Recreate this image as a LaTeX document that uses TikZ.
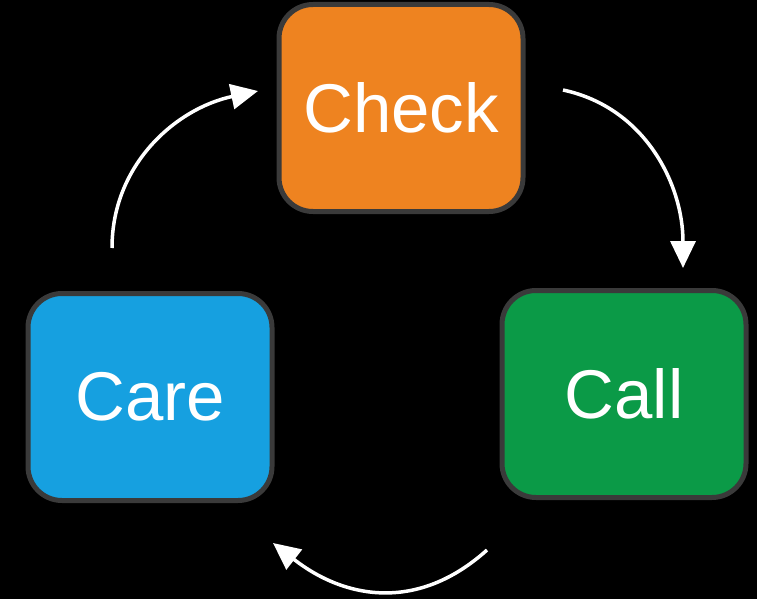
\documentclass[tikz,border=0pt]{standalone}
\usepackage{fontspec}
\setmainfont{Liberation Sans}
\usetikzlibrary{arrows.meta}
\definecolor{chkorange}{HTML}{EE8320}
\definecolor{careblue}{HTML}{16A0E0}
\definecolor{callgreen}{HTML}{0B9A47}
\definecolor{boxborder}{HTML}{3A3A3A}
\begin{document}
\begin{tikzpicture}[x=1pt,y=1pt,
  box/.style={draw=boxborder, line width=5pt, rounded corners=34pt,
    minimum width=244pt, minimum height=207pt, inner sep=0pt,
    text=white, font=\fontsize{69}{80}\selectfont},
  cyc/.style={draw=white, line width=3.5pt,
    -{Triangle[length=27pt,width=25pt]}}]
\fill[black] (0,0) rectangle (757,-599);
\useasboundingbox (0,0) rectangle (757,-599);
\node[box, fill=chkorange] (check) at (401,-108) {Check};
\node[box, fill=careblue] (care) at (150,-397) {Care};
\node[box, fill=callgreen] (call) at (624,-394) {Call};
\coordinate (a1s) at (112,-248);
\coordinate (a1e) at (258,-91);
\coordinate (a2s) at (563,-90);
\coordinate (a2e) at (683,-268);
\coordinate (a3s) at (487,-550);
\coordinate (a3e) at (273,-543);
\draw[cyc] (a1s) to[out=90, in=192] (a1e);
\draw[cyc] (a2s) to[out=-12, in=90] (a2e);
\draw[cyc] (a3s) to[out=222, in=-38, looseness=1.1] (a3e);
\end{tikzpicture}
\end{document}
